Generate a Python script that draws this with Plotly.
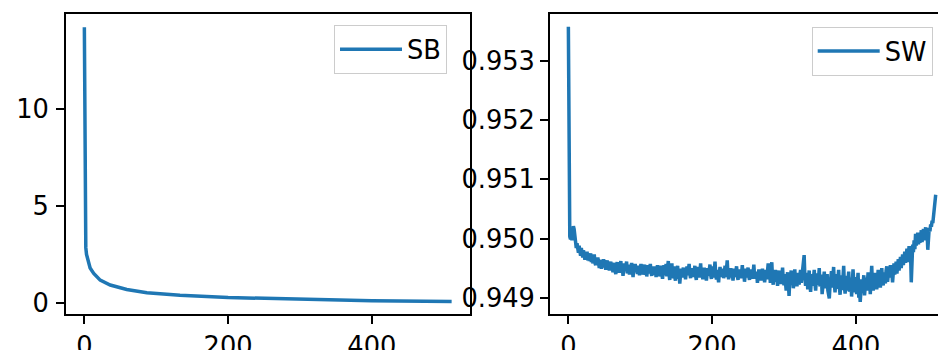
import plotly.graph_objects as go

# ---- data ----
sb_x = [0, 1, 2, 3, 5, 8, 13, 22, 36, 59, 87, 133, 200, 300, 400, 511]
sb_values = [14.24, 3.60, 2.85, 2.50, 2.15, 1.80, 1.52, 1.17, 0.92, 0.69, 0.52, 0.39, 0.27, 0.17, 0.11, 0.07]

sw_values = [
    0.95358, 0.95010, 0.95003, 0.94999, 0.95005, 0.94997, 0.95008, 0.95021, 0.95016, 0.94998,
    0.94994, 0.94984, 0.94992, 0.94980, 0.94976, 0.94988, 0.94978, 0.94971, 0.94984, 0.94975,
    0.94968, 0.94980, 0.94972, 0.94964, 0.94977, 0.94967, 0.94978, 0.94963, 0.94971, 0.94962,
    0.94969, 0.94975, 0.94960, 0.94968, 0.94958, 0.94966, 0.94973, 0.94959, 0.94955, 0.94967,
    0.94960, 0.94968, 0.94954, 0.94950, 0.94964, 0.94957, 0.94949, 0.94962, 0.94954, 0.94965,
    0.94951, 0.94959, 0.94947, 0.94957, 0.94963, 0.94949, 0.94956, 0.94946, 0.94955, 0.94961,
    0.94948, 0.94956, 0.94943, 0.94953, 0.94959, 0.94945, 0.94940, 0.94955, 0.94960, 0.94947,
    0.94955, 0.94942, 0.94951, 0.94962, 0.94944, 0.94953, 0.94937, 0.94950, 0.94958, 0.94945,
    0.94952, 0.94961, 0.94941, 0.94948, 0.94956, 0.94939, 0.94951, 0.94945, 0.94959, 0.94947,
    0.94935, 0.94952, 0.94946, 0.94957, 0.94943, 0.94950, 0.94940, 0.94954, 0.94948, 0.94938,
    0.94949, 0.94957, 0.94943, 0.94951, 0.94939, 0.94948, 0.94956, 0.94942, 0.94950, 0.94936,
    0.94946, 0.94955, 0.94941, 0.94948, 0.94957, 0.94943, 0.94937, 0.94950, 0.94942, 0.94953,
    0.94939, 0.94947, 0.94935, 0.94946, 0.94955, 0.94941, 0.94948, 0.94936, 0.94944, 0.94954,
    0.94940, 0.94932, 0.94946, 0.94955, 0.94938, 0.94947, 0.94957, 0.94936, 0.94948, 0.94962,
    0.94941, 0.94930, 0.94950, 0.94938, 0.94958, 0.94933, 0.94944, 0.94953, 0.94935, 0.94929,
    0.94947, 0.94939, 0.94954, 0.94932, 0.94943, 0.94924, 0.94939, 0.94949, 0.94934, 0.94943,
    0.94951, 0.94936, 0.94946, 0.94931, 0.94942, 0.94953, 0.94938, 0.94947, 0.94957, 0.94940,
    0.94933, 0.94946, 0.94938, 0.94950, 0.94935, 0.94944, 0.94954, 0.94937, 0.94930, 0.94948,
    0.94940, 0.94952, 0.94934, 0.94943, 0.94958, 0.94938, 0.94946, 0.94931, 0.94942, 0.94951,
    0.94936, 0.94945, 0.94929, 0.94941, 0.94950, 0.94937, 0.94946, 0.94956, 0.94938, 0.94932,
    0.94944, 0.94953, 0.94934, 0.94943, 0.94961, 0.94939, 0.94931, 0.94947, 0.94938, 0.94926,
    0.94943, 0.94952, 0.94935, 0.94945, 0.94937, 0.94949, 0.94933, 0.94942, 0.94954, 0.94935,
    0.94944, 0.94963, 0.94940, 0.94931, 0.94947, 0.94938, 0.94950, 0.94934, 0.94943, 0.94929,
    0.94940, 0.94949, 0.94935, 0.94944, 0.94953, 0.94937, 0.94930, 0.94946, 0.94939, 0.94948,
    0.94933, 0.94942, 0.94955, 0.94935, 0.94944, 0.94927, 0.94939, 0.94949, 0.94934, 0.94943,
    0.94951, 0.94936, 0.94930, 0.94946, 0.94939, 0.94948, 0.94932, 0.94941, 0.94956, 0.94937,
    0.94944, 0.94932, 0.94942, 0.94925, 0.94939, 0.94948, 0.94934, 0.94943, 0.94929, 0.94941,
    0.94949, 0.94933, 0.94942, 0.94926, 0.94938, 0.94947, 0.94931, 0.94940, 0.94958, 0.94933,
    0.94941, 0.94925, 0.94937, 0.94960, 0.94932, 0.94922, 0.94940, 0.94931, 0.94947, 0.94927,
    0.94937, 0.94920, 0.94934, 0.94946, 0.94928, 0.94938, 0.94923, 0.94935, 0.94951, 0.94929,
    0.94921, 0.94940, 0.94931, 0.94912, 0.94934, 0.94943, 0.94926, 0.94903, 0.94928, 0.94938,
    0.94946, 0.94924, 0.94934, 0.94916, 0.94939, 0.94948, 0.94926, 0.94935, 0.94919, 0.94942,
    0.94931, 0.94922, 0.94937, 0.94947, 0.94925, 0.94935, 0.94950, 0.94960, 0.94972, 0.94935,
    0.94920, 0.94932, 0.94942, 0.94914, 0.94929, 0.94946, 0.94924, 0.94910, 0.94931, 0.94940,
    0.94920, 0.94935, 0.94947, 0.94925, 0.94912, 0.94933, 0.94941, 0.94922, 0.94930, 0.94950,
    0.94919, 0.94928, 0.94939, 0.94906, 0.94925, 0.94936, 0.94944, 0.94916, 0.94932, 0.94923,
    0.94940, 0.94912, 0.94904, 0.94899, 0.94921, 0.94935, 0.94945, 0.94917, 0.94928, 0.94952,
    0.94923, 0.94909, 0.94932, 0.94940, 0.94915, 0.94927, 0.94947, 0.94918, 0.94905, 0.94930,
    0.94938, 0.94913, 0.94926, 0.94954, 0.94919, 0.94907, 0.94929, 0.94937, 0.94912, 0.94925,
    0.94944, 0.94910, 0.94922, 0.94934, 0.94902, 0.94918, 0.94948, 0.94927, 0.94909, 0.94923,
    0.94935, 0.94906, 0.94918, 0.94942, 0.94900, 0.94914, 0.94893, 0.94917, 0.94931, 0.94908,
    0.94926, 0.94938, 0.94904, 0.94922, 0.94934, 0.94912, 0.94927, 0.94943, 0.94916, 0.94930,
    0.94906, 0.94939, 0.94954, 0.94922, 0.94912, 0.94932, 0.94942, 0.94920, 0.94928, 0.94914,
    0.94937, 0.94947, 0.94924, 0.94934, 0.94917, 0.94940, 0.94950, 0.94927, 0.94921, 0.94943,
    0.94935, 0.94924, 0.94946, 0.94953, 0.94927, 0.94938, 0.94949, 0.94940, 0.94955, 0.94934,
    0.94943, 0.94926, 0.94950, 0.94958, 0.94939, 0.94947, 0.94961, 0.94941, 0.94951, 0.94965,
    0.94946, 0.94956, 0.94969, 0.94950, 0.94958, 0.94973, 0.94955, 0.94964, 0.94978, 0.94959,
    0.94967, 0.94983, 0.94960, 0.94973, 0.94987, 0.94967, 0.94977, 0.94926, 0.94971, 0.94990,
    0.94977, 0.94997, 0.94982, 0.95008, 0.94988, 0.94999, 0.95010, 0.94990, 0.95004, 0.94993,
    0.95002, 0.95014, 0.94994, 0.95006, 0.95016, 0.94997, 0.95009, 0.95019, 0.95001, 0.95011,
    0.94981, 0.95006, 0.95018, 0.95012, 0.95024, 0.95020, 0.95030, 0.95026, 0.95036, 0.95042,
    0.95052, 0.95074,
]
sw_x = list(range(len(sw_values)))

x_ticks = [0, 200, 400]
sb_ticks = [0, 5, 10]
sw_ticks = [0.949, 0.950, 0.951, 0.952, 0.953]
sw_tick_text = ["0.949", "0.950", "0.951", "0.952", "0.953"]

# ---- figure ----
W, H = 938, 350
BLUE = "#1f77b4"
FONT = "DejaVu Sans"
FS = 25.7

fig = go.Figure()
fig.add_trace(go.Scatter(x=sb_x, y=sb_values, mode="lines", name="SB",
                         line=dict(color=BLUE, width=3.5),
                         xaxis="x", yaxis="y", legend="legend"))
fig.add_trace(go.Scatter(x=sw_x, y=sw_values, mode="lines", name="SW",
                         line=dict(color=BLUE, width=3.5),
                         xaxis="x2", yaxis="y2", legend="legend2"))

ybot = 1 - 314 / H
ytop = 1 - 13.5 / H

axis_common = dict(showline=True, linecolor="black", linewidth=1.8,
                   ticks="outside", ticklen=8, tickwidth=1.8, tickcolor="black",
                   showgrid=False, zeroline=False, automargin=False,
                   tickfont=dict(family=FONT, size=FS, color="black"))

legend_common = dict(xanchor="left", yanchor="top", itemwidth=62,
                     bgcolor="rgba(255,255,255,0.8)", bordercolor="#cccccc",
                     borderwidth=1, font=dict(family=FONT, size=FS, color="black"))

fig.update_layout(
    width=W, height=H,
    margin=dict(l=0, r=0, t=0, b=0, autoexpand=False),
    paper_bgcolor="white", plot_bgcolor="white",
    xaxis=dict(domain=[66 / W, 470 / W], range=[-25.55, 536.55],
               tickvals=x_ticks, mirror=True, anchor="y", **axis_common),
    yaxis=dict(domain=[ybot, ytop], range=[-0.58, 14.95],
               tickvals=sb_ticks, mirror=True, anchor="x",
               ticklabelstandoff=2, **axis_common),
    xaxis2=dict(domain=[550 / W, 1.0], range=[-25.55, 514.2],
                tickvals=x_ticks, mirror=True, anchor="y2", **axis_common),
    yaxis2=dict(domain=[ybot, ytop], range=[0.948725, 0.953802],
                tickvals=sw_ticks, ticktext=sw_tick_text, mirror=False,
                anchor="x2", **axis_common),
    legend=dict(x=334 / W, y=1 - 25 / H, **legend_common),
    legend2=dict(x=811.7 / W, y=1 - 26.7 / H, **legend_common),
    showlegend=True,
)

fig.write_html("out.html")
